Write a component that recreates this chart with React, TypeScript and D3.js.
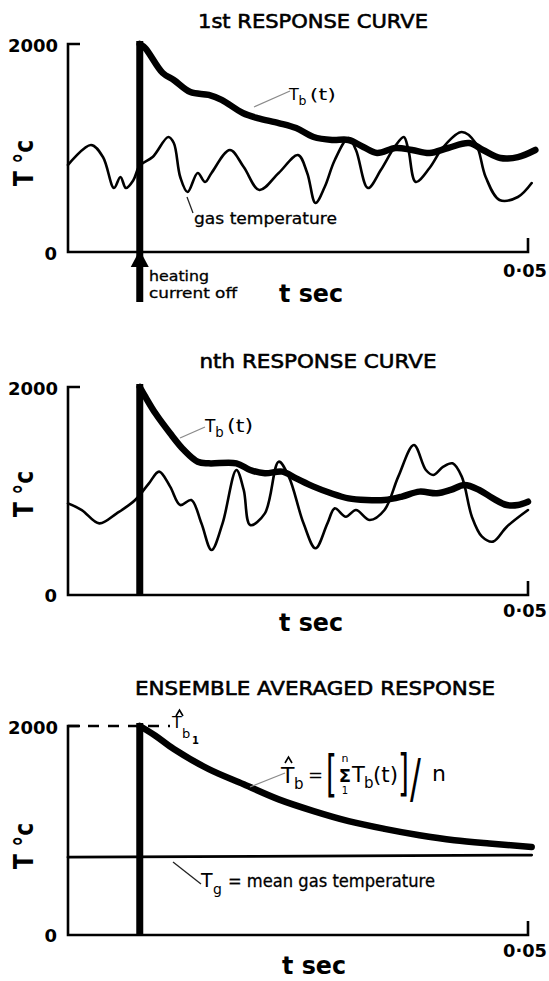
import React from 'react';
import * as d3 from 'd3';

// ---- axis / labels ----
const T_DOMAIN_MS = [0, 50];
const T_END_LABEL = '0·05';
const Y_DOMAIN = [0, 2000];
const Y_TOP_LABEL = '2000';
const Y_ZERO_LABEL = '0';
const X_TITLE = 't sec';
const Y_TITLE = 'T °c';
const HEATING_OFF_MS = 7.8;
const PANEL_TITLES = ['1st RESPONSE CURVE', 'nth RESPONSE CURVE', 'ENSEMBLE AVERAGED RESPONSE'];

// ---- panel 1 : 1st response ----
const p1TbTime = [7.8, 8.4, 10.3, 11.5, 13.3, 15.3, 16.7, 19.0, 20.6, 22.9, 24.8, 26.7, 28.7, 30.5, 32.1, 33.6, 35.6, 37.4, 39.3, 41.3, 43.6, 45.1, 47.0, 48.9, 50.8];
const p1TbTemp = [2000, 1960, 1721, 1654, 1538, 1510, 1462, 1337, 1288, 1240, 1192, 1106, 1077, 1077, 1010, 952, 1000, 981, 952, 1000, 1048, 981, 904, 913, 981];
const p1GasTime = [0, 2.5, 3.8, 5.0, 5.7, 6.3, 7.1, 7.8, 9.2, 10.9, 11.5, 12.2, 13.0, 14.1, 14.9, 15.6, 17.6, 19.1, 20.8, 22.9, 25.0, 26.0, 26.9, 27.9, 29.0, 30.5, 31.3, 32.6, 34.0, 35.5, 36.5, 37.0, 37.8, 39.3, 40.8, 42.8, 44.3, 45.4, 46.9, 48.9, 50.4];
const p1GasTemp = [837, 1029, 913, 615, 721, 615, 690, 830, 913, 1106, 1048, 721, 577, 760, 673, 760, 981, 817, 596, 760, 933, 760, 471, 625, 885, 1096, 981, 615, 788, 1010, 1106, 981, 673, 808, 1010, 1154, 1048, 721, 500, 529, 663];

// ---- panel 2 : nth response ----
const p2TbTime = [7.8, 8.4, 9.5, 11.1, 12.6, 14.1, 15.3, 18.3, 19.8, 21.4, 23.3, 24.8, 26.7, 28.6, 30.5, 32.4, 34.4, 36.3, 38.2, 40.1, 41.6, 43.1, 44.7, 46.2, 47.7, 48.9, 50.0];
const p2TbTemp = [2000, 1907, 1747, 1555, 1394, 1282, 1266, 1266, 1202, 1170, 1186, 1122, 1042, 978, 929, 913, 913, 946, 994, 978, 1010, 1058, 1010, 929, 865, 865, 897];
const p2GasTime = [0, 1.5, 3.4, 5.3, 7.3, 8.8, 9.9, 11.1, 12.2, 13.4, 14.5, 15.6, 16.8, 18.3, 19.1, 19.8, 21.4, 22.9, 24.0, 25.6, 26.9, 28.2, 29.0, 30.2, 31.3, 32.8, 34.4, 35.9, 37.6, 38.9, 39.7, 40.8, 41.8, 42.8, 43.9, 45.0, 46.2, 47.7, 50.0];
const p2GasTemp = [881, 817, 689, 785, 913, 1074, 1186, 1042, 865, 913, 689, 433, 689, 1202, 1010, 673, 785, 1282, 1138, 689, 449, 689, 833, 753, 817, 721, 817, 1138, 1442, 1202, 1154, 1234, 1266, 1138, 753, 561, 513, 657, 817];

// ---- panel 3 : ensemble average ----
const p3TbTime = [7.8, 9.5, 11.5, 15.3, 19.1, 22.9, 26.7, 30.5, 34.4, 38.2, 42.0, 45.8, 50.4];
const p3TbTemp = [2000, 1907, 1779, 1587, 1442, 1298, 1186, 1090, 1016, 955, 907, 875, 843];
const p3TgTime = [0, 50.4];
const p3TgTemp = [745, 765];

type Pt = { t: number; v: number };
const zip = (ts: number[], vs: number[]): Pt[] => ts.map((t, i) => ({ t, v: vs[i] }));

const FONT = 'DejaVu Sans, Verdana, sans-serif';
const X0 = 68;
const X1 = 528;
const xScale = d3.scaleLinear().domain(T_DOMAIN_MS).range([X0, X1]);

interface PanelProps {
  top: number;
  bottom: number;
  title: string;
  titleX: number;
  titleY: number;
  titleLen: number;
  yTitleY: number;
  zeroBase: number;
  topBase: number;
  endBase: number;
  xTitleX: number;
  xTitleBase: number;
  heatBottom?: number;
  arrow?: boolean;
  tb: Pt[];
  gas: Pt[];
  gasWidth?: number;
  children?: (y: d3.ScaleLinear<number, number>) => React.ReactNode;
}

function Panel(p: PanelProps) {
  const y = d3.scaleLinear().domain(Y_DOMAIN).range([p.bottom, p.top]);
  const line = d3
    .line<Pt>()
    .x((d) => xScale(d.t))
    .y((d) => y(d.v))
    .curve(d3.curveCatmullRom.alpha(0.5));
  const y0 = y(0);
  const yT = y(2000);
  const hx = xScale(HEATING_OFF_MS);
  const hBottom = p.heatBottom ?? y0;
  return (
    <g>
      <text x={p.titleX} y={p.titleY} textAnchor="middle" fontFamily={FONT} fontSize={20}
        textLength={p.titleLen} lengthAdjust="spacingAndGlyphs" stroke="#000" strokeWidth={0.6}>
        {p.title}
      </text>
      {/* axes */}
      <path d={`M${X0 + 12},${yT} H${X0} V${y0} H${xScale(50)} V${y0 - 14}`} fill="none" stroke="#000" strokeWidth={2.6} />
      <text x={58} y={p.topBase} textAnchor="end" fontFamily={FONT} fontWeight="bold" fontSize={18}>{Y_TOP_LABEL}</text>
      <text x={57} y={p.zeroBase} textAnchor="end" fontFamily={FONT} fontWeight="bold" fontSize={18}>{Y_ZERO_LABEL}</text>
      <text x={525} y={p.endBase} textAnchor="middle" fontFamily={FONT} fontWeight="bold" fontSize={18}
        textLength={44} lengthAdjust="spacingAndGlyphs">{T_END_LABEL}</text>
      <text x={p.xTitleX} y={p.xTitleBase} textAnchor="middle" fontFamily={FONT} fontWeight="bold" fontSize={24}
        textLength={64} lengthAdjust="spacingAndGlyphs">{X_TITLE}</text>
      <text transform={`translate(33,${p.yTitleY}) rotate(-90)`} textAnchor="middle" fontFamily={FONT}
        fontWeight="bold" fontSize={26} textLength={46} lengthAdjust="spacingAndGlyphs">{Y_TITLE}</text>
      {/* heating-off line */}
      <line x1={hx} x2={hx} y1={yT - 3} y2={hBottom} stroke="#000" strokeWidth={7} />
      {p.arrow && (
        <path d={`M${hx},${y0 - 2} L${hx + 9},${y0 + 15} L${hx - 9},${y0 + 15} Z`} fill="#000" />
      )}
      {/* curves */}
      <path d={line(p.gas) ?? ''} fill="none" stroke="#000" strokeWidth={p.gasWidth ?? 2.6} strokeLinejoin="round" strokeLinecap="round" />
      <path d={line(p.tb) ?? ''} fill="none" stroke="#000" strokeWidth={6.5} strokeLinejoin="round" strokeLinecap="round" />
      {p.children && p.children(y)}
    </g>
  );
}

const Tb = ({ x, y, size, sub = 'b', rest = '(t)', restLen }: { x: number; y: number; size: number; sub?: string; rest?: string; restLen?: number }) => (
  <g fontFamily={FONT}>
    <text x={x} y={y} fontSize={size}>T</text>
    <text x={x + size * 0.6} y={y + size * 0.3} fontSize={size * 0.78}>{sub}</text>
    {rest && (
      <text x={x + size * 1.3} y={y} fontSize={size} textLength={restLen} lengthAdjust="spacingAndGlyphs">{rest}</text>
    )}
  </g>
);

export default function App() {
  const leader = { stroke: '#8a8a8a', strokeWidth: 1.3 };
  return (
    <svg width={549} height={981} style={{ position: 'absolute', left: 0, top: 0, background: '#fff' }}>
      <rect width={549} height={981} fill="#fff" />
      {/* Panel 1 */}
      <Panel top={44} bottom={252} title={PANEL_TITLES[0]} titleX={313} titleY={28} titleLen={230}
        yTitleY={163} topBase={52} zeroBase={260} endBase={277} xTitleX={311} xTitleBase={302}
        heatBottom={302} arrow tb={zip(p1TbTime, p1TbTemp)} gas={zip(p1GasTime, p1GasTemp)} />
      <line x1={254} y1={107} x2={290} y2={91} {...leader} />
      <Tb x={289} y={100} size={16} restLen={26} />
      <line x1={187} y1={197} x2={193} y2={213} stroke="#222" strokeWidth={1.3} />
      <text x={194} y={224} fontFamily={FONT} fontSize={16} textLength={143} lengthAdjust="spacingAndGlyphs" stroke="#000" strokeWidth={0.3}>gas temperature</text>
      <text x={149} y={281} fontFamily={FONT} fontSize={14} textLength={60} lengthAdjust="spacingAndGlyphs" stroke="#000" strokeWidth={0.3}>heating</text>
      <text x={149} y={298} fontFamily={FONT} fontSize={14} textLength={88} lengthAdjust="spacingAndGlyphs" stroke="#000" strokeWidth={0.3}>current off</text>

      {/* Panel 2 */}
      <Panel top={387} bottom={595} title={PANEL_TITLES[1]} titleX={318} titleY={368} titleLen={237}
        yTitleY={494} topBase={395} zeroBase={602} endBase={617} xTitleX={311} xTitleBase={631}
        tb={zip(p2TbTime, p2TbTemp)} gas={zip(p2GasTime, p2GasTemp)} />
      <line x1={180} y1={438} x2={205} y2={427} {...leader} />
      <Tb x={205} y={432} size={17} restLen={26} />

      {/* Panel 3 */}
      <Panel top={726} bottom={935} title={PANEL_TITLES[2]} titleX={315} titleY={695} titleLen={360}
        yTitleY={846} topBase={734} zeroBase={942} endBase={957} xTitleX={314} xTitleBase={974}
        tb={zip(p3TbTime, p3TbTemp)} gas={zip(p3TgTime, p3TgTemp)} gasWidth={2.8}>
        {(y) => (
          <g>
            <line x1={X0} x2={170} y1={y(2000)} y2={y(2000)} stroke="#000" strokeWidth={2.6} strokeDasharray="11 9" />
          </g>
        )}
      </Panel>
      {/* T-hat b1 */}
      <path d="M176,716 L179.5,710 L183,716" fill="none" stroke="#000" strokeWidth={1.6} />
      <text x={172} y={728} fontFamily={FONT} fontSize={16}>T</text>
      <text x={182} y={738} fontFamily={FONT} fontSize={13}>b</text>
      <text x={192} y={744} fontFamily={FONT} fontSize={10} fontWeight="bold">1</text>
      {/* formula */}
      <line x1={250} y1={787} x2={285} y2={773} {...leader} />
      <path d="M285,763 L288.5,757 L292,763" fill="none" stroke="#000" strokeWidth={1.6} />
      <text x={281} y={783} fontFamily={FONT} fontSize={22}>T</text>
      <text x={294} y={789} fontFamily={FONT} fontSize={15}>b</text>
      <text x={308} y={781} fontFamily={FONT} fontSize={18}>=</text>
      <text transform="translate(326,791) scale(0.7,1.25)" fontFamily={FONT} fontSize={40}>[</text>
      <text x={345} y={762} textAnchor="middle" fontFamily={FONT} fontSize={11}>n</text>
      <text x={345} y={782} textAnchor="middle" fontFamily={FONT} fontSize={18} fontWeight="bold">Σ</text>
      <text x={345} y={794} textAnchor="middle" fontFamily={FONT} fontSize={10}>1</text>
      <text x={352} y={782} fontFamily={FONT} fontSize={21}>T</text>
      <text x={364} y={788} fontFamily={FONT} fontSize={15}>b</text>
      <text x={373} y={782} fontFamily={FONT} fontSize={21} textLength={25} lengthAdjust="spacingAndGlyphs">(t)</text>
      <text transform="translate(398,790) scale(0.7,1.25)" fontFamily={FONT} fontSize={40}>]</text>
      <text transform="translate(410,797) scale(1.15,1.9)" fontFamily={FONT} fontSize={28}>/</text>
      <text x={432} y={781} fontFamily={FONT} fontSize={22}>n</text>
      {/* Tg label */}
      <line x1={173} y1={862} x2={201} y2={884} stroke="#222" strokeWidth={1.3} />
      <text x={201} y={887} fontFamily={FONT} fontSize={19}>T</text>
      <text x={213} y={894} fontFamily={FONT} fontSize={14}>g</text>
      <text x={228} y={887} fontFamily={FONT} fontSize={17} textLength={207} lengthAdjust="spacingAndGlyphs" stroke="#000" strokeWidth={0.3}>= mean gas temperature</text>
    </svg>
  );
}
